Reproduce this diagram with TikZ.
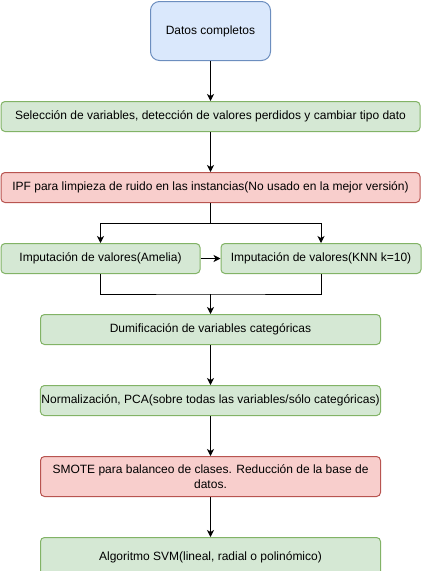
\documentclass[tikz,border=0pt]{standalone}
\usepackage{fontspec}
\setmainfont{Liberation Sans}
\usetikzlibrary{positioning,arrows.meta}
\definecolor{blueFill}{HTML}{DAE8FC}
\definecolor{blueLine}{HTML}{6C8EBF}
\definecolor{greenFill}{HTML}{D5E8D4}
\definecolor{greenLine}{HTML}{82B366}
\definecolor{redFill}{HTML}{F8CECC}
\definecolor{redLine}{HTML}{B85450}
\tikzset{
  box/.style={draw, line width=1pt, rounded corners=4pt, minimum height=30pt,
    inner xsep=1pt, inner ysep=2pt, align=center,
    font=\fontsize{12pt}{14.5pt}\selectfont},
  green box/.style={box, fill=greenFill, draw=greenLine},
  red box/.style={box, fill=redFill, draw=redLine},
  flow/.style={draw, line width=1pt, -{Stealth[length=7pt,width=7pt,inset=2pt]}},
  line/.style={draw, line width=1pt}
}
\begin{document}
\begin{tikzpicture}[x=1pt, y=1pt, node distance=40pt]
    \useasboundingbox (0,0) rectangle (421,-571);
    \node (D0) [box, fill=blueFill, draw=blueLine, rounded corners=9pt,
      minimum width=120pt, minimum height=59pt, anchor=north] at (210.5,-1) {Datos completos};
    \node (D1) [green box, minimum width=419pt, below=of D0] {Selección de variables, detección de valores perdidos y cambiar tipo dato};
    \node (D2) [red box, minimum width=419pt, below=of D1] {IPF para limpieza de ruido en las instancias(No usado en la mejor versión)};
    \node (D3) [green box, minimum width=199pt, below=of D2.south west, anchor=north west] {Imputación de valores(Amelia)};
    \node (D4) [green box, minimum width=200pt, right=20pt of D3] {Imputación de valores(KNN k=10)};
    \coordinate (M) at (D3.south -| D2.south);
    \node (D5) [green box, minimum width=340pt, below=of M] {Dumificación de variables categóricas};
    \node (D6) [green box, minimum width=340pt, below=of D5] {Normalización, PCA(sobre todas las variables/sólo categóricas)};
    \node (D7) [red box, minimum width=340pt, minimum height=40pt, below=of D6] {SMOTE para balanceo de clases. Reducción de la base de\\datos.};
    \node (D8) [green box, minimum width=340pt, minimum height=40pt, below=of D7] {Algoritmo SVM(lineal, radial o polinómico)};

    \coordinate [below=20pt of D2.south] (S);
    \coordinate [below=20pt of M] (J);

    \path[every edge/.style={flow}]
      (D0) edge (D1)
      (D1) edge (D2)
      (D3) edge (D4)
      (J) edge (D5)
      (D5) edge (D6)
      (D6) edge (D7)
      (D7) edge (D8);
    \path[line] (D2) -- (S);
    \path[flow] (S) -| (D3.north);
    \path[flow] (S) -| (D4.north);
    \path[line] (D3.south) |- (J) -| (D4.south);
  \end{tikzpicture}
\end{document}
